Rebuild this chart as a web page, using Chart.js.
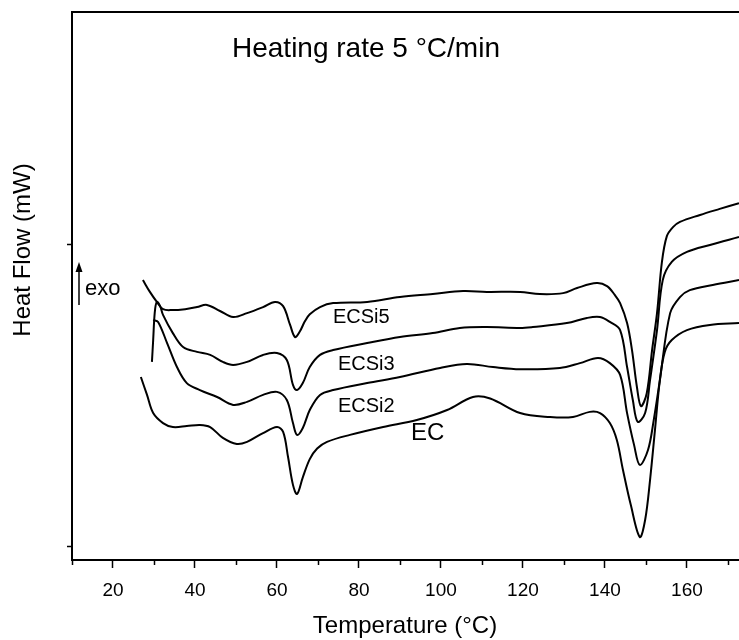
<!DOCTYPE html>
<html>
<head>
<meta charset="utf-8">
<script src="https://cdn.jsdelivr.net/npm/chart.js@4.4.1/dist/chart.umd.min.js"></script>
<style>
  html, body { margin: 0; padding: 0; background: #fff; }
  #wrap { width: 739px; height: 640px; }
</style>
</head>
<body>
<div id="wrap"><canvas id="dscChart" width="739" height="640"></canvas></div>
<script>
// temperature (°C) and heat flow (arbitrary mW offset)
const ecsi5T = [27.3, 29.0, 30.7, 32.2, 34.4, 37.6, 40.5, 42.9, 46.1, 49.3, 52.7, 56.6, 59.5, 61.5, 63.2, 64.4, 65.6, 66.8, 68.0, 70.5, 73.7, 82.0, 90.0, 98.0, 105.4, 111.2, 119.3, 124.1, 129.8, 133.2, 138.0, 140.5, 142.4, 143.7, 145.4, 146.6, 147.8, 148.8, 150.2, 151.5, 152.7, 153.9, 155.1, 156.6, 158.3, 163.2, 168.0, 172.7];
const ecsi5V = [8.81, 8.42, 8.09, 7.85, 7.82, 7.85, 7.92, 7.99, 7.79, 7.59, 7.72, 7.92, 8.09, 7.95, 7.33, 6.93, 7.12, 7.45, 7.68, 7.92, 8.05, 8.09, 8.25, 8.35, 8.45, 8.42, 8.42, 8.35, 8.38, 8.55, 8.71, 8.61, 8.32, 8.05, 7.39, 6.50, 5.28, 4.65, 5.08, 6.50, 7.72, 9.41, 10.26, 10.56, 10.73, 10.96, 11.16, 11.35];

const ecsi3T = [29.5, 29.8, 30.2, 30.7, 31.5, 32.2, 34.6, 37.1, 40.5, 43.7, 46.8, 49.3, 52.7, 56.6, 60.0, 62.4, 63.9, 64.9, 66.3, 68.0, 70.5, 73.7, 82.0, 90.0, 98.0, 104.6, 111.2, 119.3, 122.4, 130.7, 135.6, 138.8, 141.2, 143.7, 145.4, 146.8, 148.0, 149.8, 151.0, 152.7, 154.1, 156.3, 160.0, 165.6, 172.7];
const ecsi3V = [6.11, 6.83, 7.76, 8.09, 7.95, 7.66, 7.06, 6.60, 6.44, 6.34, 6.11, 6.01, 6.11, 6.34, 6.40, 6.17, 5.35, 5.18, 5.41, 5.94, 6.34, 6.50, 6.73, 6.93, 7.06, 7.23, 7.26, 7.23, 7.26, 7.39, 7.56, 7.59, 7.43, 7.16, 5.94, 4.85, 4.13, 4.42, 5.51, 7.16, 8.81, 9.41, 9.74, 9.97, 10.23];

const ecsi2T = [29.8, 31.0, 33.2, 35.6, 38.0, 41.2, 45.4, 49.3, 52.7, 56.6, 60.0, 62.4, 63.9, 64.9, 66.3, 68.0, 70.5, 73.7, 82.0, 90.0, 99.8, 106.3, 112.7, 119.3, 129.0, 133.9, 138.3, 141.2, 143.7, 145.4, 147.1, 148.5, 150.5, 151.9, 153.4, 155.9, 158.3, 160.7, 166.3, 172.7];
const ecsi2V = [7.49, 7.43, 6.73, 5.94, 5.41, 5.18, 4.95, 4.69, 4.79, 5.02, 5.12, 4.85, 4.09, 3.70, 3.93, 4.52, 5.02, 5.18, 5.41, 5.61, 5.91, 6.04, 5.94, 5.87, 5.91, 6.07, 6.24, 6.07, 5.68, 4.42, 3.37, 2.71, 3.20, 4.19, 5.51, 7.72, 8.25, 8.48, 8.65, 8.81];

const ecT = [26.8, 28.3, 29.8, 32.2, 34.6, 38.0, 41.2, 43.7, 46.8, 50.2, 52.7, 56.6, 60.0, 61.5, 62.7, 63.9, 64.9, 66.3, 68.0, 69.8, 72.2, 77.8, 85.9, 94.1, 101.5, 107.8, 112.0, 119.3, 126.6, 132.2, 136.3, 138.8, 141.2, 142.9, 144.4, 146.3, 148.5, 149.8, 151.0, 152.2, 153.4, 154.6, 156.3, 160.0, 165.6, 172.7];
const ecV = [5.61, 5.02, 4.42, 4.09, 3.96, 3.99, 4.03, 3.96, 3.60, 3.40, 3.47, 3.76, 3.96, 3.80, 2.97, 2.05, 1.75, 2.30, 2.90, 3.25, 3.47, 3.70, 3.96, 4.19, 4.52, 4.95, 4.90, 4.42, 4.29, 4.29, 4.46, 4.42, 4.09, 3.53, 2.54, 1.39, 0.33, 0.89, 2.21, 3.86, 5.51, 6.44, 6.83, 7.16, 7.33, 7.39];

const xTicks = [10, 20, 30, 40, 50, 60, 70, 80, 90, 100, 110, 120, 130, 140, 150, 160, 170];
const yTicks = [0, 10];

const FONT = "'Liberation Sans', Arial, sans-serif";

function toPoints(xs, ys) {
    return xs.map((x, i) => ({ x: x, y: ys[i] }));
}

function lineSet(label, xs, ys) {
    return {
        label: label,
        data: toPoints(xs, ys),
        borderColor: '#000',
        borderWidth: 2,
        pointRadius: 0,
        fill: false,
        tension: 0.35
    };
}

// frame, minor ticks and the hand-placed texts
const extras = {
    id: 'extras',
    afterDraw(chart) {
        const ctx = chart.ctx;
        const area = chart.chartArea;
        const xs = chart.scales.x;
        ctx.save();
        ctx.strokeStyle = '#000';
        ctx.fillStyle = '#000';

        ctx.lineWidth = 2;
        ctx.beginPath();
        ctx.moveTo(area.left - 1, area.top);
        ctx.lineTo(area.right, area.top);
        ctx.stroke();

        ctx.lineWidth = 1.5;
        xTicks.filter(v => v % 20 !== 0).forEach(v => {
            const px = Math.round(xs.getPixelForValue(v)) + 0.5;
            ctx.beginPath();
            ctx.moveTo(px, area.bottom);
            ctx.lineTo(px, area.bottom + 5);
            ctx.stroke();
        });

        ctx.textBaseline = 'alphabetic';
        ctx.textAlign = 'left';
        ctx.font = '28px ' + FONT;
        ctx.fillText('Heating rate 5 \u00B0C/min', 232, 57);

        ctx.font = '20px ' + FONT;
        ctx.fillText('ECSi5', 333, 323);
        ctx.fillText('ECSi3', 338, 370);
        ctx.fillText('ECSi2', 338, 412);
        ctx.font = '24px ' + FONT;
        ctx.fillText('EC', 411, 440);

        ctx.font = '22px ' + FONT;
        ctx.fillText('exo', 85, 295);
        ctx.lineWidth = 1.5;
        ctx.beginPath();
        ctx.moveTo(79, 305);
        ctx.lineTo(79, 268);
        ctx.stroke();
        ctx.beginPath();
        ctx.moveTo(79, 262);
        ctx.lineTo(75.5, 272);
        ctx.lineTo(82.5, 272);
        ctx.closePath();
        ctx.fill();

        ctx.textAlign = 'center';
        ctx.textBaseline = 'middle';
        ctx.font = '24px ' + FONT;
        ctx.fillText('Temperature (\u00B0C)', 405, 626);
        ctx.translate(23, 250);
        ctx.rotate(-Math.PI / 2);
        ctx.fillText('Heat Flow (mW)', 0, 0);
        ctx.restore();
    }
};

const chart = new Chart(document.getElementById('dscChart').getContext('2d'), {
    type: 'line',
    data: {
        datasets: [
            lineSet('ECSi5', ecsi5T, ecsi5V),
            lineSet('ECSi3', ecsi3T, ecsi3V),
            lineSet('ECSi2', ecsi2T, ecsi2V),
            lineSet('EC', ecT, ecV)
        ]
    },
    options: {
        responsive: false,
        animation: false,
        layout: { padding: { top: 12, left: 0, right: 0, bottom: 0 } },
        plugins: {
            legend: { display: false },
            tooltip: { enabled: false }
        },
        scales: {
            x: {
                type: 'linear',
                min: 10,
                max: 172.7,
                afterBuildTicks: axis => { axis.ticks = xTicks.map(v => ({ value: v })); },
                afterFit: axis => { axis.height = 80; },
                grid: {
                    drawOnChartArea: false,
                    drawTicks: true,
                    tickLength: 8,
                    tickWidth: 1.5,
                    tickColor: c => (c.tick && c.tick.value % 20 === 0) ? '#000' : 'rgba(0,0,0,0)'
                },
                border: { color: '#000', width: 2 },
                ticks: {
                    autoSkip: false,
                    maxRotation: 0,
                    padding: 11,
                    color: '#000',
                    font: { family: FONT, size: 19 },
                    callback: v => (v % 20 === 0 && v >= 20 && v <= 160) ? String(v) : ''
                }
            },
            y: {
                min: -0.43,
                max: 17.66,
                afterBuildTicks: axis => { axis.ticks = yTicks.map(v => ({ value: v })); },
                afterFit: axis => { axis.width = 72; },
                grid: {
                    drawOnChartArea: false,
                    drawTicks: true,
                    tickLength: 5,
                    tickWidth: 1.5,
                    tickColor: '#000'
                },
                border: { color: '#000', width: 2 },
                ticks: { display: false }
            }
        }
    },
    plugins: [extras]
});
</script>
</body>
</html>
